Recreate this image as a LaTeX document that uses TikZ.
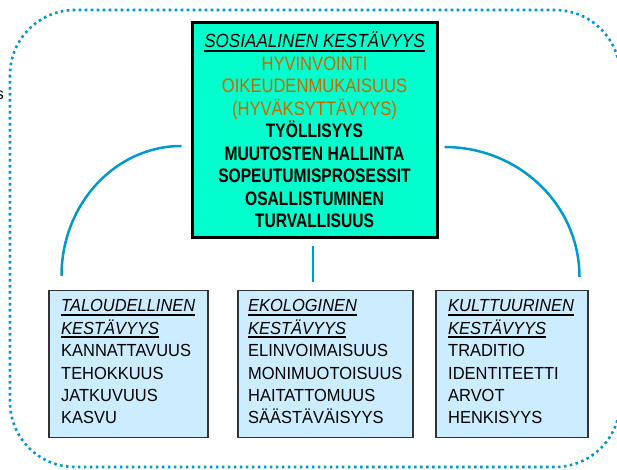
\documentclass[tikz,border=0pt]{standalone}
\usepackage{fontspec}
\setmainfont{Liberation Sans}
\newfontfamily\hdfont[FakeStretch=0.8]{Liberation Sans}
\newfontfamily\orfont[FakeStretch=0.85]{Liberation Sans}
\newfontfamily\sttlfont[FakeStretch=0.9]{Liberation Sans}
\newfontfamily\lowfont[FakeStretch=0.94]{Liberation Sans}
\usetikzlibrary{calc}
\definecolor{lineblue}{RGB}{0,153,204}
\definecolor{topfill}{RGB}{0,255,204}
\definecolor{lowfill}{RGB}{204,236,255}
\definecolor{orangetxt}{RGB}{204,102,0}
\begin{document}
\begin{tikzpicture}[x=1pt,y=1pt,
  link/.style={draw=lineblue,line width=2.5pt},
  frame/.style={draw=lineblue,line width=2.6pt,dash pattern=on 2.6pt off 3.4pt,rounded corners=65pt},
  topbox/.style={draw=black,line width=3pt,fill=topfill,inner sep=0pt,minimum width=245pt,minimum height=215pt},
  lowbox/.style={draw=black!80,line width=1.5pt,fill=lowfill,inner sep=0pt,minimum height=147pt,anchor=north west},
  ttl/.style={inner sep=0pt,font=\sttlfont\itshape\fontsize{19}{22}\selectfont},
  org/.style={inner sep=0pt,text=orangetxt,font=\orfont\fontsize{19.5}{22}\selectfont},
  blk/.style={inner sep=0pt,font=\hdfont\bfseries\fontsize{19.5}{22}\selectfont},
  lowttl/.style={inner sep=0pt,anchor=base west,font=\lowfont\itshape\fontsize{17.5}{20}\selectfont},
  lowtxt/.style={inner sep=0pt,anchor=base west,font=\lowfont\fontsize{17.5}{20}\selectfont},
  uline/.style={draw=black,line width=2pt}]
\useasboundingbox (0,0) rectangle (617,470);
% outer dotted frame
\draw[frame] (10,460) rectangle (620,3);
\node[anchor=base east,inner sep=0pt,font=\fontsize{16}{18}\selectfont] (frag) at (4,370) {s};
% top box
\node[topbox] (top) at (314.5,339.5) {};
\foreach \st/\t [count=\i] in {ttl/SOSIAALINEN KESTÄVYYS, org/HYVINVOINTI, org/OIKEUDENMUKAISUUS, org/{(HYVÄKSYTTÄVYYS)}, blk/TYÖLLISYYS, blk/MUUTOSTEN HALLINTA, blk/SOPEUTUMISPROSESSIT, blk/OSALLISTUMINEN, blk/TURVALLISUUS}
  \node[\st,anchor=base] (t\i) at (314.5,{422-22.5*(\i-1)}) {\t};
\draw[uline] ([yshift=-3pt]t1.base west) -- ([yshift=-3pt]t1.base east);
% lower boxes
\node[lowbox,minimum width=159pt] (b1) at (48,180) {};
\node[lowbox,minimum width=175pt] (b2) at (237,180) {};
\node[lowbox,minimum width=152pt] (b3) at (435,180) {};
\foreach \bx/\x/\ta/\tb/\la/\lb/\lc/\ld in {
   1/61/TALOUDELLINEN/KESTÄVYYS/KANNATTAVUUS/TEHOKKUUS/JATKUVUUS/KASVU,
   2/248/EKOLOGINEN/KESTÄVYYS/ELINVOIMAISUUS/MONIMUOTOISUUS/HAITATTOMUUS/SÄÄSTÄVÄISYYS,
   3/448/KULTTUURINEN/KESTÄVYYS/TRADITIO/IDENTITEETTI/ARVOT/HENKISYYS}{
  \node[lowttl] (b\bx a) at (\x,158) {\ta};
  \node[lowttl] (b\bx b) at (\x,135.6) {\tb};
  \node[lowtxt] (b\bx c) at (\x,113.2) {\la};
  \node[lowtxt] (b\bx d) at (\x,90.8) {\lb};
  \node[lowtxt] (b\bx e) at (\x,68.4) {\lc};
  \node[lowtxt] (b\bx f) at (\x,46) {\ld};
  \draw[uline] ([yshift=-3pt]b\bx a.base west) -- ([yshift=-3pt]b\bx a.base east);
  \draw[uline] ([yshift=-3pt]b\bx b.base west) -- ([yshift=-3pt]b\bx b.base east);
}
% connectors
\coordinate (la) at ([xshift=-9pt,yshift=-15.5pt]top.west);
\draw[link] (la) arc[start angle=90,end angle=180,x radius=120,y radius=130];
\coordinate (ra) at ([xshift=6pt,yshift=-16.5pt]top.east);
\draw[link] (ra) arc[start angle=90,end angle=0,x radius=135,y radius=130];
\coordinate (ma) at ([xshift=-1.5pt,yshift=-7pt]top.south);
\coordinate (mb) at ($(ma |- b2.north)+(0,8)$);
\draw[link] (ma) -- (mb);
\end{tikzpicture}
\end{document}
